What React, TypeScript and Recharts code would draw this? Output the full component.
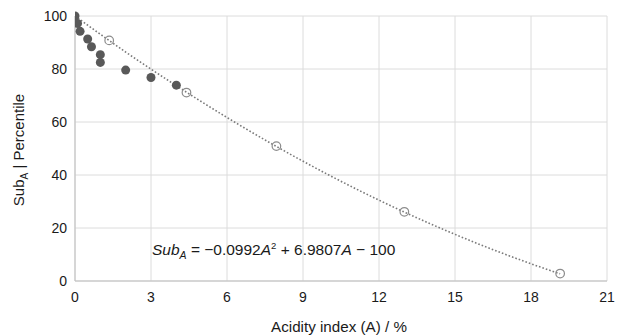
import React from 'react';
import { ComposedChart, Scatter, Line, XAxis, YAxis, CartesianGrid, Customized } from 'recharts';

const measuredA = [0, 0.1, 0.2, 0.5, 0.65, 1.0, 1.0, 2.0, 3.0, 4.0];
const measuredSub = [100, 97.2, 94.2, 91.3, 88.4, 85.4, 82.5, 79.6, 76.8, 73.9];

const standardA = [1.35, 4.4, 7.95, 13.0, 19.15];
const standardSub = [90.8, 71.1, 50.9, 26.1, 2.8];

const trendA = [0, 2, 4, 6, 8, 10, 12, 14, 16, 18, 19.15];
const trendSub = [100, 86.4, 73.7, 61.7, 50.5, 40.1, 30.5, 21.7, 13.7, 6.5, 2.7];

const xTicks = [0, 3, 6, 9, 12, 15, 18, 21];
const yTicks = [0, 20, 40, 60, 80, 100];

const measured = measuredA.map((a, i) => ({ a, sub: measuredSub[i] }));
const standard = standardA.map((a, i) => ({ a, sub: standardSub[i] }));
const trend = trendA.map((a, i) => ({ a, t: trendSub[i] }));

const FONT = '"Liberation Sans", Arial, Helvetica, sans-serif';

const Labels = () => (
  <g fontFamily={FONT} fill="#1a1a1a">
    <text x={339} y={332} textAnchor="middle" fontSize={15.2}>Acidity index (A) / %</text>
    <text transform="translate(24,150) rotate(-90)" textAnchor="middle" fontSize={15}>
      Sub<tspan fontSize={10} dy={4}>A</tspan><tspan dy={-4}> | Percentile</tspan>
    </text>
    <text x={152} y={255} fontSize={15.5}>
      <tspan fontStyle="italic">Sub</tspan>
      <tspan fontStyle="italic" fontSize={10.5} dy={4}>A</tspan>
      <tspan dy={-4}> = −0.0992</tspan>
      <tspan fontStyle="italic">A</tspan>
      <tspan fontSize={9.5} dy={-6}>2</tspan>
      <tspan dy={6}> + 6.9807</tspan>
      <tspan fontStyle="italic">A</tspan>
      <tspan> − 100</tspan>
    </text>
  </g>
);

export default function App() {
  return (
    <div style={{ position: 'absolute', left: 0, top: 0, background: '#fff' }}>
      <ComposedChart
        width={619}
        height={336}
        margin={{ top: 16, right: 12, bottom: 25, left: 35 }}
      >
        <CartesianGrid stroke="#dcdcdc" strokeWidth={1} />
        <XAxis
          type="number"
          dataKey="a"
          domain={[0, 21]}
          ticks={xTicks}
          interval={0}
          allowDataOverflow
          height={30}
          tickLine={false}
          tickMargin={5}
          axisLine={{ stroke: '#bfbfbf' }}
          tick={{ fill: '#1a1a1a', fontSize: 14, fontFamily: FONT }}
        />
        <YAxis
          type="number"
          domain={[0, 100]}
          ticks={yTicks}
          interval={0}
          width={40}
          tickLine={false}
          axisLine={{ stroke: '#bfbfbf' }}
          tick={{ fill: '#1a1a1a', fontSize: 14, fontFamily: FONT }}
        />
        <Scatter data={measured} dataKey="sub" fill="#595959" isAnimationActive={false}
          shape={(p: any) => <circle cx={p.cx} cy={p.cy} r={4.5} fill="#595959" />} />
        <Scatter data={standard} dataKey="sub" isAnimationActive={false}
          shape={(p: any) => <circle cx={p.cx} cy={p.cy} r={4.3} fill="none" stroke="#8c8c8c" strokeWidth={1.2} />} />
        <Line data={trend} dataKey="t" type="monotone" stroke="#7a7a7a" strokeWidth={1.6}
          strokeDasharray="1.6 2" dot={false} activeDot={false} isAnimationActive={false} />
        <Customized component={Labels} />
      </ComposedChart>
    </div>
  );
}
